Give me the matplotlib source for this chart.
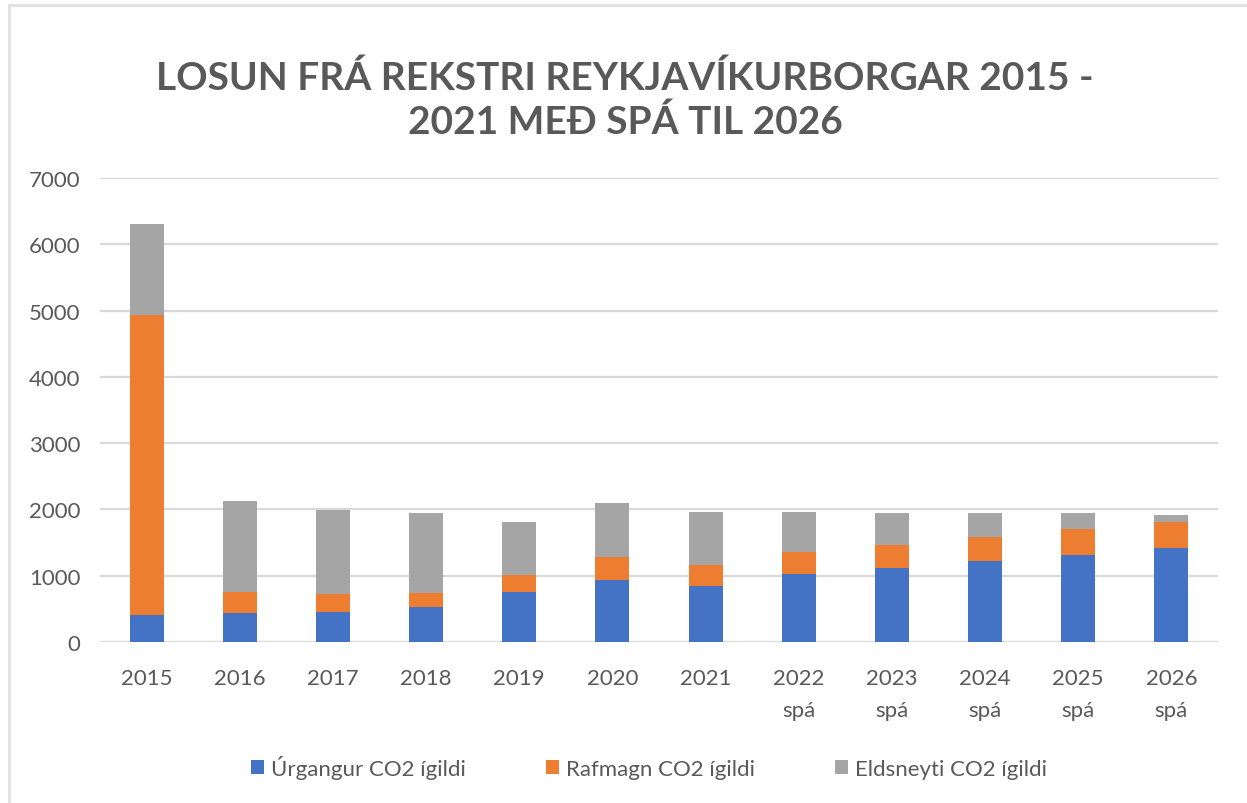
import numpy as np
import matplotlib.pyplot as plt
from matplotlib.patches import Rectangle

years = ['2015', '2016', '2017', '2018', '2019', '2020', '2021',
         '2022\nspá', '2023\nspá', '2024\nspá', '2025\nspá', '2026\nspá']
urgangur = [400, 430, 460, 530, 760, 940, 840, 1030, 1110, 1220, 1315, 1425]
rafmagn = [4530, 320, 270, 210, 250, 340, 325, 335, 350, 360, 385, 380]
eldsneyti = [1370, 1370, 1260, 1200, 800, 810, 800, 600, 480, 360, 240, 110]
series_names = ['Úrgangur CO2 ígildi', 'Rafmagn CO2 ígildi', 'Eldsneyti CO2 ígildi']

plt.rcParams['font.family'] = ['Lato', 'DejaVu Sans']
txt = '#595959'

fig = plt.figure(figsize=(12.47, 8.04), dpi=100)
ax = fig.add_axes([100/1247, 1-643/804, 1118/1247, 464/804])

x = np.arange(len(years))
w = 0.365
b1 = np.array(urgangur)
b2 = b1 + np.array(rafmagn)
ax.bar(x, urgangur, w, color='#4472c4', label=series_names[0], zorder=3)
ax.bar(x, rafmagn, w, bottom=b1, color='#ed7d31', label=series_names[1], zorder=3)
ax.bar(x, eldsneyti, w, bottom=b2, color='#a5a5a5', label=series_names[2], zorder=3)

ax.set_xlim(-0.5, len(years) - 0.5)
ax.set_ylim(0, 7000)
ax.set_yticks(range(0, 7001, 1000))
ax.grid(axis='y', color='#d9d9d9', linewidth=1.6, zorder=0)
for s in ax.spines.values():
    s.set_visible(False)
ax.tick_params(length=0, labelsize=16, colors=txt)
ax.tick_params(axis='y', pad=14)
ax.tick_params(axis='x', pad=19)
ax.set_xticks(x)
ax.set_xticklabels(years, linespacing=1.75, va='top')

fig.text(625/1247, 1-100/804, 'LOSUN FRÁ REKSTRI REYKJAVÍKURBORGAR 2015 -\n2021 MEÐ SPÁ TIL 2026',
         ha='center', va='center', fontsize=28, fontweight='bold', color=txt, linespacing=1.3)

fig.legend(loc='center', bbox_to_anchor=(649/1247, 1-768/804), ncol=3, frameon=False,
           fontsize=16, labelcolor=txt, handlelength=0.6, handleheight=0.6,
           handletextpad=0.3, columnspacing=3.6)

fig.patches.append(Rectangle((9/1247, -0.1), 1.2, 1 - 6/804 + 0.1, transform=fig.transFigure,
                             fill=False, edgecolor='#e0e0e0', linewidth=2))

fig.savefig('out.png', dpi=100)
